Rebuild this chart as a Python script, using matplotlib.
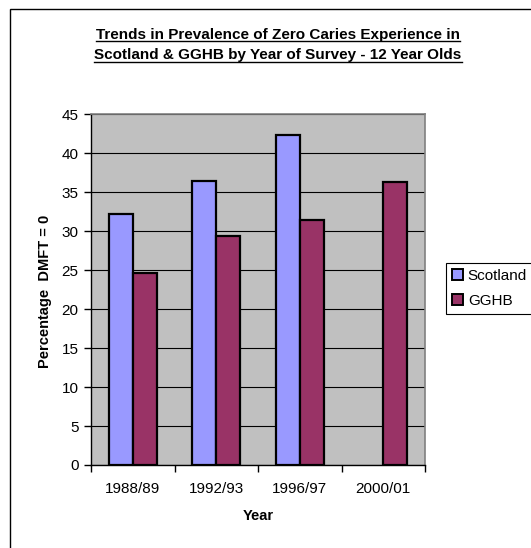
import numpy as np
import matplotlib
matplotlib.use("Agg")
import matplotlib.pyplot as plt
from matplotlib.patches import Rectangle

plt.rcParams['font.family'] = ['Liberation Sans', 'DejaVu Sans']

years = ["1988/89", "1992/93", "1996/97", "2000/01"]
scotland = [32.2, 36.4, 42.4, np.nan]
gghb = [24.6, 29.4, 31.4, 36.3]

W, H = 531, 548
fig = plt.figure(figsize=(W / 100, H / 100), dpi=100)

# outer chart frame
fig.patches.append(Rectangle((10 / W, -0.1), 1.2, (H - 9) / H + 0.1,
                             transform=fig.transFigure, fill=False,
                             edgecolor='black', linewidth=1.0))

ax = fig.add_axes([91 / W, 83 / H, (425 - 91) / W, (465 - 114.3) / H])
ax.set_facecolor('#C0C0C0')

x = np.arange(len(years))
bw = 0.29
ax.bar(x - bw / 2, scotland, bw, color='#9999FF', edgecolor='black',
       linewidth=1.6, label='Scotland', zorder=3)
ax.bar(x + bw / 2, gghb, bw, color='#993366', edgecolor='black',
       linewidth=1.6, label='GGHB', zorder=3)

ax.set_xlim(-0.5, 3.5)
ax.set_ylim(0, 45)
ax.set_yticks(np.arange(0, 46, 5))
ax.yaxis.grid(True, color='#000000', linewidth=0.8, zorder=1)
ax.set_axisbelow(True)

ax.set_xticks(x)
ax.set_xticklabels(years, fontsize=11)
ax.set_xticks(np.arange(-0.5, 3.6, 1), minor=True)
ax.tick_params(axis='x', which='major', length=0, pad=12)
ax.tick_params(axis='x', which='minor', length=5, width=1, direction='out')
ax.tick_params(axis='y', length=5, width=1, direction='out', labelsize=11, pad=4)

for s in ['top', 'right']:
    ax.spines[s].set_color('#808080')
    ax.spines[s].set_linewidth(1.2)
for s in ['left', 'bottom']:
    ax.spines[s].set_color('black')
    ax.spines[s].set_linewidth(1.0)

ax.set_xlabel('Year', fontsize=10.5, fontweight='bold', va='center')
ax.xaxis.set_label_coords(0.5, (465 - 515.5) / 350.7)
ax.set_ylabel('Percentage  DMFT = 0', fontsize=10.5, fontweight='bold',
              va='center')
ax.yaxis.set_label_coords((45 - 91) / 334, 0.495)

# two-line underlined title
title_lines = ['Trends in Prevalence of Zero Caries Experience in',
               'Scotland & GGHB by Year of Survey - 12 Year Olds']
baselines = [38.5, 59.5]
texts = [fig.text(278 / W, 1 - b / H, t, ha='center', va='baseline',
                  fontsize=11, fontweight='bold')
         for t, b in zip(title_lines, baselines)]
fig.canvas.draw()
renderer = fig.canvas.get_renderer()
for t, b in zip(texts, baselines):
    bb = t.get_window_extent(renderer)
    yy = 1 - (b + 2.2) / H
    fig.add_artist(plt.Line2D([bb.x0 / W, bb.x1 / W], [yy, yy],
                              transform=fig.transFigure, color='black',
                              linewidth=1.0))

leg = fig.legend(loc='upper left', bbox_to_anchor=(445.7 / W, 1 - 263 / H),
                 fontsize=11, frameon=True, fancybox=False, framealpha=1,
                 edgecolor='black', handlelength=0.75, handleheight=0.75,
                 handletextpad=0.3, borderpad=0.4, labelspacing=0.7,
                 borderaxespad=0)
leg.get_frame().set_linewidth(0.8)
for p in leg.get_patches():
    p.set_linewidth(1.4)

fig.savefig('out.png', dpi=100)
